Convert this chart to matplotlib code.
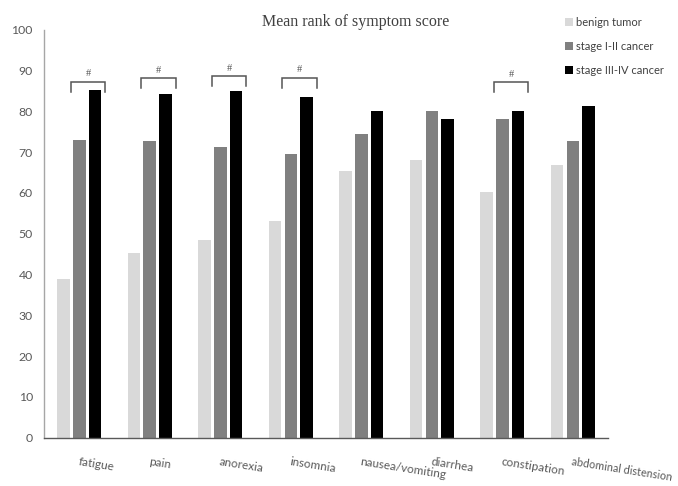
import numpy as np
import matplotlib
matplotlib.use("Agg")
import matplotlib.pyplot as plt

# Mean rank of symptom score by patient group
categories = ["fatigue", "pain", "anorexia", "insomnia", "nausea/vomiting",
              "diarrhea", "constipation", "abdominal distension"]
series_names = ["benign tumor", "stage I-II cancer", "stage III-IV cancer"]
benign = [39.0, 45.3, 48.5, 53.1, 65.3, 68.2, 60.2, 66.8]
stage_1_2 = [73.0, 72.8, 71.3, 69.6, 74.5, 80.1, 78.2, 72.8]
stage_3_4 = [85.2, 84.2, 84.9, 83.6, 80.1, 78.2, 80.1, 81.2]
y_ticks = list(range(0, 101, 10))

# significance brackets between stage I-II and stage III-IV: category index, bracket level
sig_index = [0, 1, 2, 3, 6]
sig_level = [87.2, 88.1, 88.6, 88.2, 87.1]

colors = ["#d9d9d9", "#808080", "#000000"]
sans = ["Lato", "DejaVu Sans"]
text_gray = "#595959"

fig = plt.figure(figsize=(6.78, 4.86), dpi=100)
ax = fig.add_axes([0.0649, 0.0994, 0.832, 0.8393])

x = np.arange(len(categories))
bar_w = 0.178
step = 0.222
for i, (vals, c) in enumerate(zip([benign, stage_1_2, stage_3_4], colors)):
    ax.bar(x + (i - 1) * step, vals, width=bar_w, color=c, label=series_names[i],
           linewidth=0, zorder=2)

# brackets
for idx, lvl in zip(sig_index, sig_level):
    x0 = idx - bar_w / 2 - 0.03
    x1 = idx + step + bar_w / 2 + 0.06
    ax.plot([x0, x0, x1, x1], [lvl - 2.4, lvl, lvl, lvl - 2.4],
            color="#555555", lw=1.1, solid_joinstyle="miter", zorder=3)
    ax.text((x0 + x1) / 2, lvl + 0.9, "#", ha="center", va="bottom",
            fontsize=7.5, color="#555555", family=["Liberation Serif", "DejaVu Serif"])

ax.set_xlim(-0.5, len(categories) - 0.5)
ax.set_ylim(0, 100)
ax.set_yticks(y_ticks)
ax.set_yticklabels([str(t) for t in y_ticks], fontsize=8.8, color=text_gray, family=sans)
ax.tick_params(axis="y", length=0, pad=8)
ax.set_xticks([])

for s in ["top", "right"]:
    ax.spines[s].set_visible(False)
ax.spines["left"].set_color("#a6a6a6")
ax.spines["left"].set_linewidth(1.0)
ax.spines["bottom"].set_color("#595959")
ax.spines["bottom"].set_linewidth(1.0)

# category labels, slanted and starting at each group centre
for xi, lab in zip(x, categories):
    size = 7.8 if len(lab) > 16 else 8.5
    ax.annotate(lab, xy=(xi, 0), xycoords="data", xytext=(0, -13),
                textcoords="offset points", ha="left", va="top", rotation=-9,
                rotation_mode="anchor", fontsize=size, color=text_gray, family=sans,
                annotation_clip=False)

fig.text(0.524, 0.955, "Mean rank of symptom score", ha="center", va="center",
         fontsize=11.5, color="#404040", family=["Liberation Serif", "DejaVu Serif"])

leg = fig.legend(loc="upper left", bbox_to_anchor=(0.818, 0.985), frameon=False,
                 handlelength=0.75, handleheight=0.75, handletextpad=0.3,
                 labelspacing=1.15, prop={"family": sans, "size": 8})
for t in leg.get_texts():
    t.set_color("#404040")

fig.savefig("out.png", dpi=100)
